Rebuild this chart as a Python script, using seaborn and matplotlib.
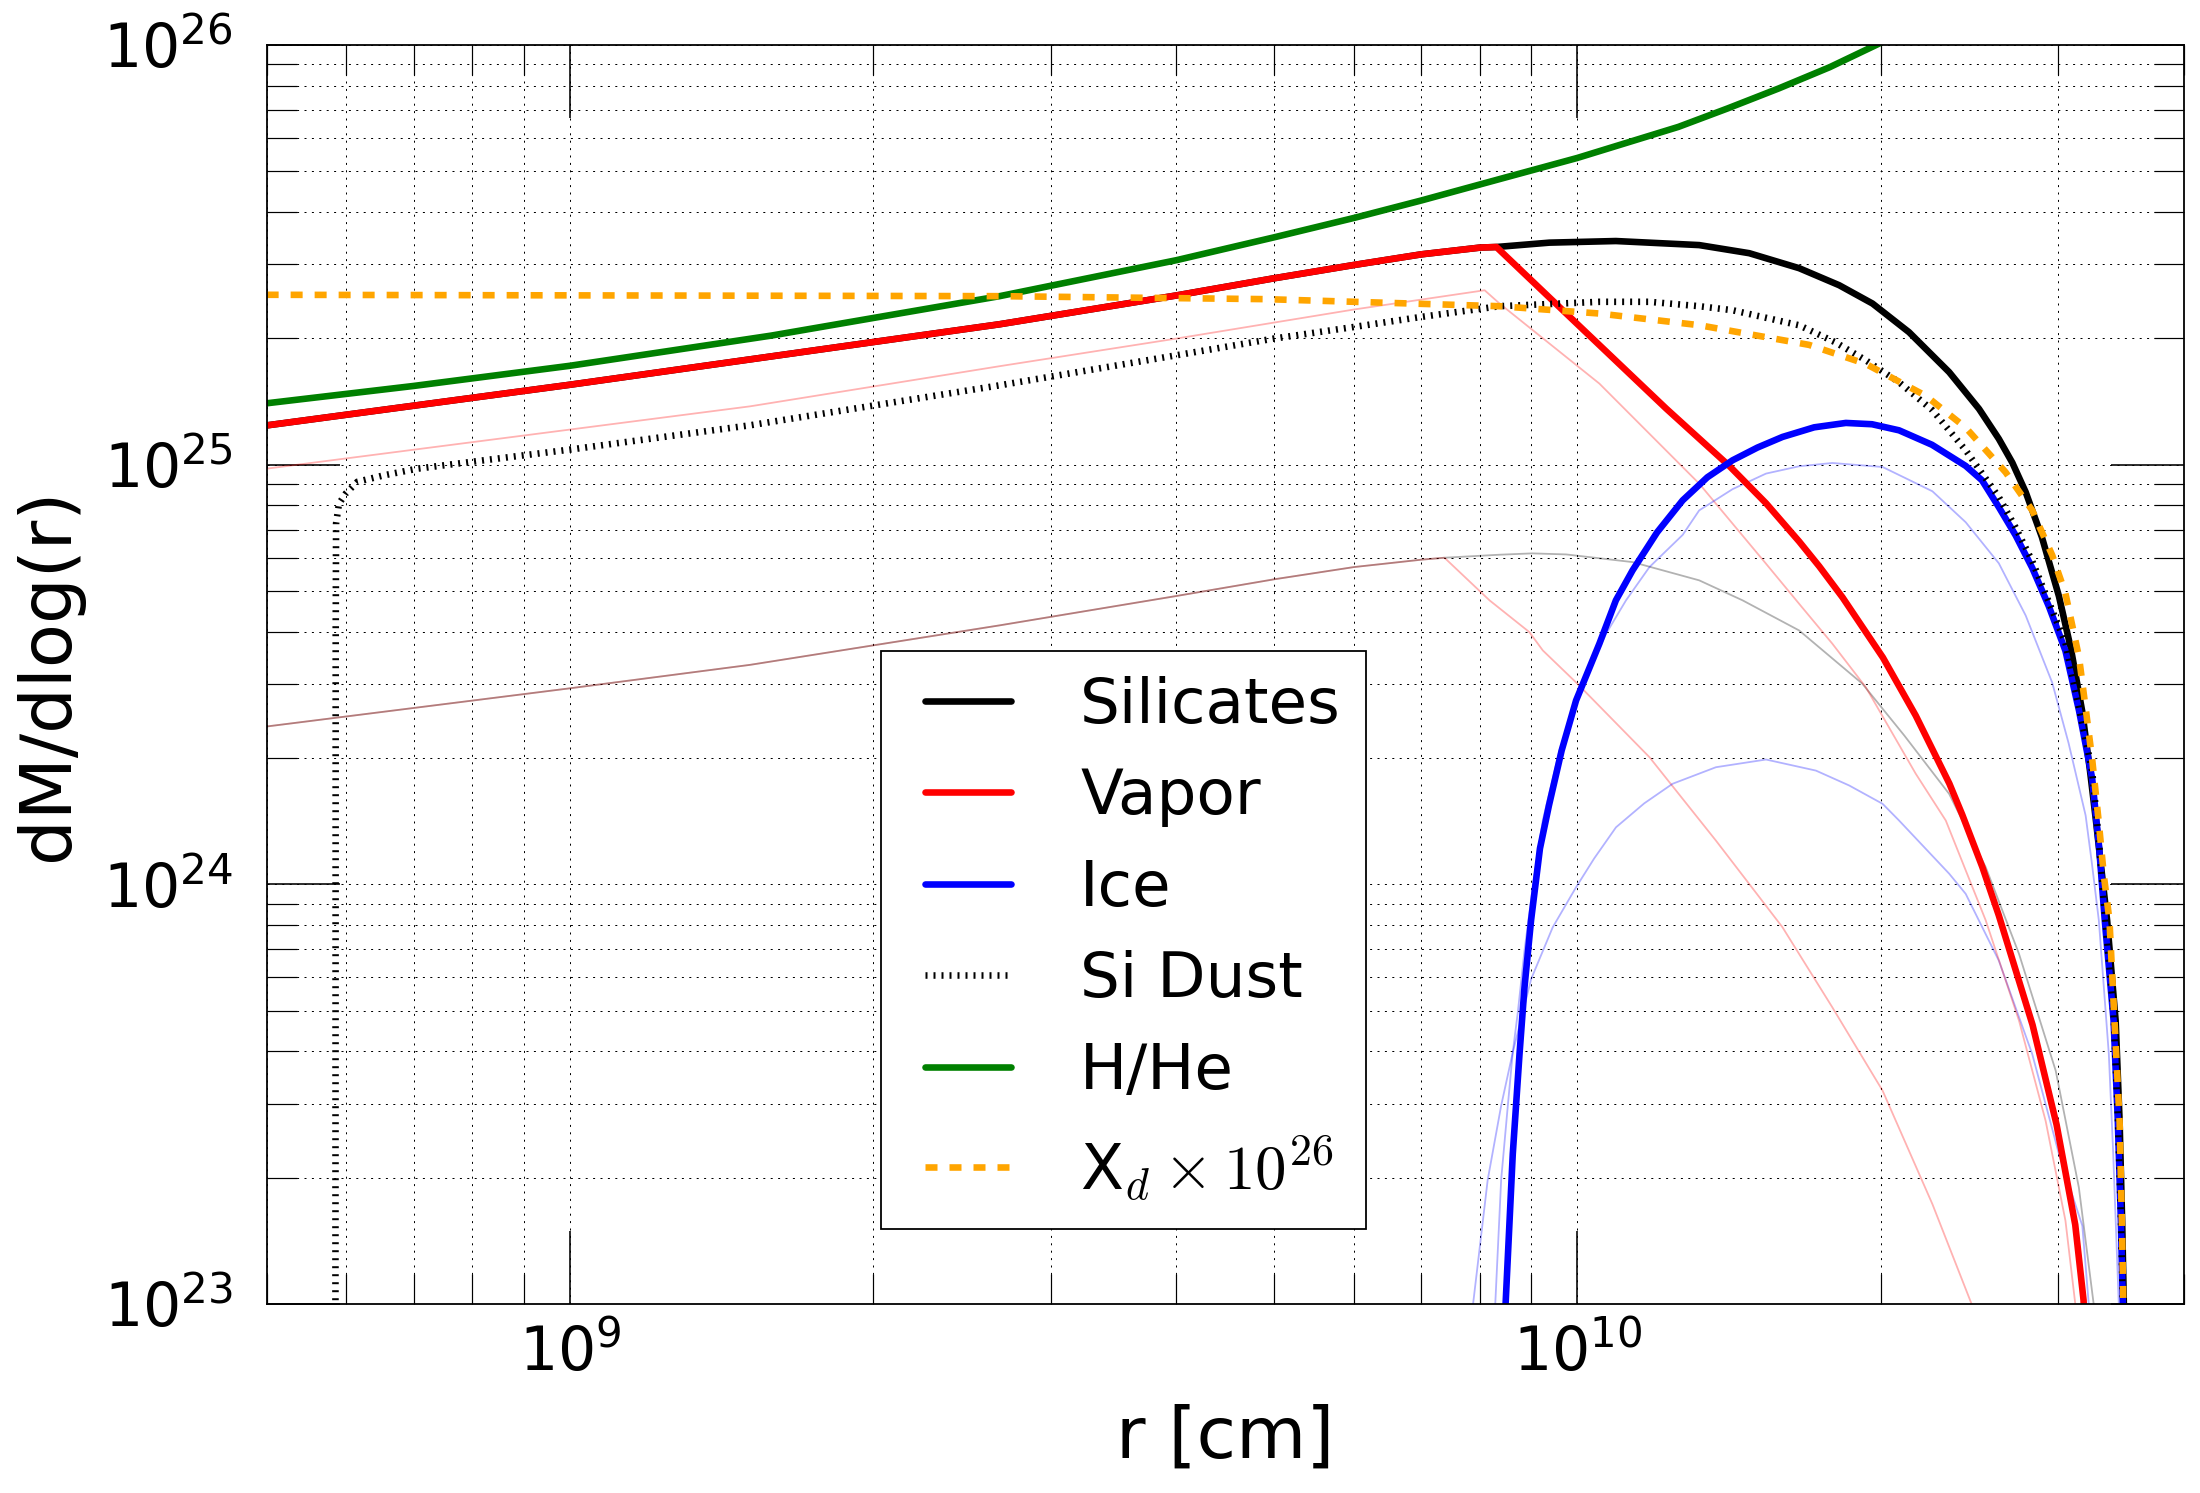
import matplotlib
matplotlib.use("Agg")
import matplotlib.pyplot as plt
import matplotlib.ticker as mticker
import seaborn as sns
import pandas as pd

# radius r [cm] and dM/dlog(r) [g]

# thick curves
silicates_r = [5.0e8, 1.0e9, 2.67e9, 4.0e9, 5.0e9, 6.0e9, 7.0e9, 8.01e9, 8.31e9, 9.38e9,
               1.092e10, 1.321e10, 1.481e10, 1.66e10, 1.819e10, 1.963e10, 2.134e10, 2.339e10,
               2.504e10, 2.62e10, 2.702e10, 2.786e10, 2.891e10, 3.006e10, 3.09e10, 3.17e10,
               3.227e10, 3.271e10, 3.356e10, 3.422e10, 3.453e10, 3.473e10, 3.487e10, 3.495e10]
silicates_m = [1.24e25, 1.55e25, 2.16e25, 2.53e25, 2.78e25, 2.99e25, 3.17e25, 3.29e25, 3.30e25, 3.38e25,
               3.41e25, 3.335e25, 3.19e25, 2.938e25, 2.676e25, 2.42e25, 2.068e25, 1.661e25,
               1.358e25, 1.152e25, 1.011e25, 8.6e24, 6.72e24, 4.857e24, 3.633e24, 2.586e24,
               1.866e24, 1.42e24, 8.2e23, 4.73e23, 2.73e23, 1.58e23, 9.9e22, 6.56e22]

vapor_r = [5.0e8, 1.0e9, 2.67e9, 4.0e9, 5.0e9, 6.0e9, 7.0e9, 8.01e9, 8.31e9, 9.75e9,
           1.225e10, 1.415e10, 1.539e10, 1.66e10, 1.738e10, 1.833e10, 2.01e10, 2.167e10,
           2.34e10, 2.41e10, 2.523e10, 2.62e10, 2.83e10, 2.99e10, 3.12e10, 3.18e10, 3.20e10]
vapor_m = [1.24e25, 1.55e25, 2.16e25, 2.53e25, 2.78e25, 2.99e25, 3.17e25, 3.29e25, 3.30e25, 2.29e25,
           1.36e25, 9.93e24, 8.09e24, 6.56e24, 5.724e24, 4.827e24, 3.472e24, 2.523e24,
           1.738e24, 1.465e24, 1.10e24, 8.43e23, 4.624e23, 2.673e23, 1.545e23, 1.021e23, 7.23e22]

ice_r = [8.39e9, 8.485e9, 8.627e9, 8.761e9, 8.861e9, 8.995e9, 9.18e9, 9.37e9, 9.647e9,
         9.97e9, 1.0515e10, 1.092e10, 1.1345e10, 1.2e10, 1.272e10, 1.346e10, 1.4256e10, 1.509e10,
         1.598e10, 1.718e10, 1.847e10, 1.961e10, 2.086e10, 2.249e10, 2.429e10, 2.521e10, 2.62e10,
         2.723e10, 2.828e10, 2.938e10, 3.051e10, 3.147e10, 3.243e10, 3.294e10, 3.338e10, 3.406e10,
         3.439e10, 3.463e10, 3.479e10, 3.487e10]
ice_m = [5.87e22, 9.9e22, 2.276e23, 3.94e23, 5.68e23, 8.2e23, 1.217e24, 1.54e24, 2.084e24,
         2.742e24, 3.743e24, 4.75e24, 5.6e24, 6.9e24, 8.22e24, 9.33e24, 1.024e25, 1.098e25,
         1.164e25, 1.227e25, 1.257e25, 1.248e25, 1.207e25, 1.115e25, 9.93e24, 9.18e24, 7.92e24,
         6.78e24, 5.675e24, 4.59e24, 3.6e24, 2.594e24, 1.789e24, 1.237e24, 8.2e23, 4.73e23,
         2.73e23, 1.58e23, 9.9e22, 6.56e22]

dust_r = [5.851e8, 5.855e8, 5.86e8, 5.899e8, 5.99e8, 6.152e8, 6.537e8, 7.056e8, 8.213e8, 1.0e9,
          1.51e9, 2.67e9, 4.0e9, 5.0e9, 6.0e9, 7.0e9, 8.37e9, 1.0515e10, 1.179e10, 1.321e10,
          1.4256e10, 1.66e10, 1.803e10, 1.933e10, 2.086e10, 2.251e10, 2.429e10, 2.62e10, 2.722e10,
          2.828e10, 3.051e10, 3.243e10, 3.294e10, 3.338e10, 3.406e10, 3.439e10, 3.463e10, 3.479e10,
          3.487e10]
dust_m = [6.3e22, 3.98e24, 7.24e24, 8.07e24, 8.53e24, 9.1e24, 9.43e24, 9.78e24, 1.024e25, 1.086e25,
          1.241e25, 1.545e25, 1.822e25, 1.997e25, 2.128e25, 2.249e25, 2.385e25, 2.443e25, 2.443e25, 2.385e25,
          2.333e25, 2.148e25, 1.957e25, 1.773e25, 1.571e25, 1.348e25, 1.082e25, 8.37e24, 7.09e24,
          5.89e24, 3.76e24, 1.862e24, 1.26e24, 8.51e23, 4.9e23, 2.82e23, 1.62e23, 1.0e23,
          6.6e22]

hhe_r = [5.0e8, 7.0e8, 1.0e9, 1.585e9, 2.67e9, 4.0e9, 5.0e9, 6.0e9, 7.0e9, 8.37e9,
         1.0e10, 1.26e10, 1.41e10, 1.585e10, 1.78e10, 1.98e10, 2.24e10]
hhe_m = [1.40e25, 1.54e25, 1.72e25, 2.03e25, 2.52e25, 3.07e25, 3.48e25, 3.87e25, 4.26e25, 4.79e25,
         5.38e25, 6.38e25, 7.06e25, 7.88e25, 8.85e25, 1.0e26, 1.156e26]

# dust mass fraction X_d (plotted times 1e26)
xd_r = [5.0e8, 2.67e9, 4.91e9, 8.37e9, 1.0515e10, 1.321e10, 1.698e10, 1.933e10, 2.217e10, 2.429e10,
        2.661e10, 2.828e10, 2.96e10, 3.051e10, 3.147e10, 3.195e10, 3.243e10, 3.293e10, 3.331e10,
        3.374e10, 3.413e10, 3.453e10, 3.471e10, 3.483e10, 3.491e10]
xd = [0.2539, 0.2520, 0.2479, 0.2385, 0.2291, 0.2149, 0.1929, 0.1738, 0.1459, 0.1225,
      0.0959, 0.0778, 0.06085, 0.04933, 0.03477, 0.0263, 0.01988, 0.01401, 0.01049,
      0.0082, 0.00473, 0.00273, 0.00158, 0.00099, 0.000656]

# faint curves of the two comparison models
vapor_a_r = [5.0e8, 1.51e9, 2.67e9, 4.0e9, 6.0e9, 8.09e9, 8.37e9, 1.0515e10, 1.321e10, 1.539e10, 1.66e10,
             1.791e10, 1.933e10, 2.167e10, 2.321e10, 2.543e10, 2.744e10, 2.916e10, 3.051e10, 3.122e10, 3.161e10]
vapor_a_m = [9.78e24, 1.377e25, 1.716e25, 1.997e25, 2.342e25, 2.603e25, 2.42e25, 1.56e25, 9.01e24, 5.806e24, 4.66e24,
             3.743e24, 2.95e24, 1.834e24, 1.419e24, 8.2e23, 4.73e23, 2.73e23, 1.58e23, 9.9e22, 6.56e22]

ice_a_r = [8.236e9, 8.287e9, 8.401e9, 8.53e9, 8.627e9, 8.727e9, 8.861e9, 9.03e9, 9.239e9, 9.599e9,
           1.0123e10, 1.0678e10, 1.1176e10, 1.179e10, 1.272e10, 1.321e10, 1.4256e10, 1.539e10, 1.66e10,
           1.791e10, 2.009e10, 2.251e10, 2.429e10, 2.62e10, 2.786e10, 2.96e10, 3.073e10, 3.195e10,
           3.241e10, 3.293e10, 3.369e10, 3.402e10, 3.447e10, 3.455e10]
ice_a_m = [5.87e22, 9.9e22, 1.977e23, 2.968e23, 3.977e23, 4.954e23, 6.95e23, 9.84e23, 1.419e24, 2.084e24,
           3.005e24, 3.955e24, 4.75e24, 5.7e24, 6.8e24, 7.78e24, 8.74e24, 9.52e24, 9.91e24,
           1.009e25, 9.87e24, 8.64e24, 7.29e24, 5.82e24, 4.37e24, 3.024e24, 2.17e24, 1.459e24,
           1.123e24, 8.2e23, 3.94e23, 2.317e23, 9.9e22, 6.56e22]

vapor_b_r = [5.0e8, 1.0e9, 1.51e9, 2.67e9, 4.0e9, 5.0e9, 6.0e9, 7.0e9, 7.38e9, 8.18e9, 8.96e9,
             9.24e9, 1.0e10, 1.179e10, 1.3725e10, 1.598e10, 1.791e10, 2.009e10, 2.251e10, 2.466e10, 2.562e10]
vapor_b_m = [2.377e24, 2.931e24, 3.334e24, 4.14e24, 4.864e24, 5.33e24, 5.70e24, 5.936e24, 6.0e24, 4.75e24, 3.99e24,
             3.608e24, 3.006e24, 2.009e24, 1.271e24, 7.9e23, 5.09e23, 3.222e23, 1.73e23, 9.9e22, 7.32e22]

silicates_b_r = [5.0e8, 1.0e9, 1.51e9, 2.67e9, 4.0e9, 5.0e9, 6.0e9, 7.0e9, 7.38e9, 8.37e9, 9.02e9, 9.745e9,
                 1.1345e10, 1.321e10, 1.4585e10, 1.66e10, 1.918e10, 2.111e10, 2.339e10, 2.543e10, 2.744e10,
                 2.984e10, 3.146e10, 3.256e10, 3.285e10]
silicates_b_m = [2.377e24, 2.931e24, 3.334e24, 4.14e24, 4.864e24, 5.33e24, 5.70e24, 5.936e24, 6.0e24, 6.10e24, 6.145e24,
                 6.11e24, 5.858e24, 5.30e24, 4.75e24, 4.026e24, 3.006e24, 2.262e24, 1.642e24, 1.098e24, 6.823e23,
                 3.595e23, 1.895e23, 9.9e22, 6.56e22]

ice_b_r = [7.797e9, 7.875e9, 8.147e9, 8.401e9, 8.627e9, 8.998e9, 9.452e9, 9.97e9, 1.039e10, 1.0922e10,
           1.165e10, 1.2431e10, 1.3725e10, 1.539e10, 1.725e10, 1.861e10, 2.009e10, 2.086e10, 2.339e10,
           2.429e10, 2.62e10, 2.828e10, 3.006e10, 3.171e10, 3.219e10, 3.241e10]
ice_b_m = [5.87e22, 9.9e22, 1.977e23, 2.968e23, 3.977e23, 5.95e23, 7.9e23, 9.84e23, 1.152e24, 1.367e24,
           1.559e24, 1.736e24, 1.901e24, 1.983e24, 1.866e24, 1.72e24, 1.555e24, 1.419e24, 1.06e24,
           9.49e23, 6.58e23, 3.94e23, 2.276e23, 1.536e23, 9.9e22, 6.56e22]

DPI = 144

sns.set_theme(style="white")
plt.rcParams.update({
    "font.family": ["DejaVu Sans"],
    "mathtext.fontset": "cm",
    "text.color": "black",
    "axes.labelcolor": "black",
    "lines.scale_dashes": False,
    "axes.linewidth": 0.9,
    "axes.edgecolor": "black",
    "xtick.color": "black",
    "ytick.color": "black",
    "xtick.direction": "in",
    "ytick.direction": "in",
    "xtick.top": True,
    "ytick.right": True,
    "xtick.bottom": True,
    "ytick.left": True,
    "xtick.major.size": 36.5,
    "ytick.major.size": 36.5,
    "xtick.minor.size": 15,
    "ytick.minor.size": 15,
    "xtick.major.width": 0.8,
    "ytick.major.width": 0.8,
    "xtick.minor.width": 0.6,
    "ytick.minor.width": 0.6,
    "xtick.major.pad": 10,
    "ytick.major.pad": 17,
    "xtick.labelsize": 30,
    "ytick.labelsize": 30,
    "axes.labelsize": 36,
})


def curve(ax, r, m, **kw):
    df = pd.DataFrame({"r": r, "m": m})
    sns.lineplot(data=df, x="r", y="m", ax=ax, estimator=None, sort=False, **kw)


fig = plt.figure(figsize=(2200 / DPI, 1493 / DPI), dpi=DPI)
ax = fig.add_axes([0.1212, 0.1266, 0.8715, 0.8433])
ax.set_xscale("log")
ax.set_yscale("log")

thin = 0.9
curve(ax, vapor_b_r, vapor_b_m, color="red", alpha=0.3, lw=thin)
curve(ax, silicates_b_r, silicates_b_m, color="black", alpha=0.3, lw=thin)
curve(ax, ice_b_r, ice_b_m, color="blue", alpha=0.3, lw=thin)
curve(ax, vapor_a_r, vapor_a_m, color="red", alpha=0.3, lw=thin)
curve(ax, ice_a_r, ice_a_m, color="blue", alpha=0.3, lw=thin)

thick = 3.3
curve(ax, silicates_r, silicates_m, color="black", lw=thick, label="Silicates")
curve(ax, vapor_r, vapor_m, color="red", lw=thick, label="Vapor")
curve(ax, ice_r, ice_m, color="blue", lw=thick, label="Ice")
curve(ax, dust_r, dust_m, color="black", lw=thick, linestyle=(0, (1, 3)), label="Si Dust")
curve(ax, hhe_r, hhe_m, color="green", lw=thick, label="H/He")
curve(ax, xd_r, [x * 1e26 for x in xd], color="orange", lw=thick,
      linestyle=(0, (6, 6)), label=r"X$_d\times10^{26}$")

ax.set_xlim(5e8, 4e10)
ax.set_ylim(1e23, 1e26)
ax.xaxis.set_minor_formatter(mticker.NullFormatter())
ax.yaxis.set_minor_formatter(mticker.NullFormatter())
ax.grid(True, which="both", color="black", linestyle=(0, (1, 2.7)), linewidth=0.5)

ax.set_xlabel("r [cm]", labelpad=10)
ax.set_ylabel("dM/dlog(r)", labelpad=10)

leg = ax.legend(loc="upper left", bbox_to_anchor=(0.3204, 0.5187), borderaxespad=0,
                fontsize=31.4, fancybox=False, framealpha=1, edgecolor="black",
                numpoints=2, handlelength=1.97, handletextpad=0.8, borderpad=0.4, labelspacing=0.5)
leg.get_frame().set_linewidth(0.9)

fig.savefig("out.png", dpi=DPI)
